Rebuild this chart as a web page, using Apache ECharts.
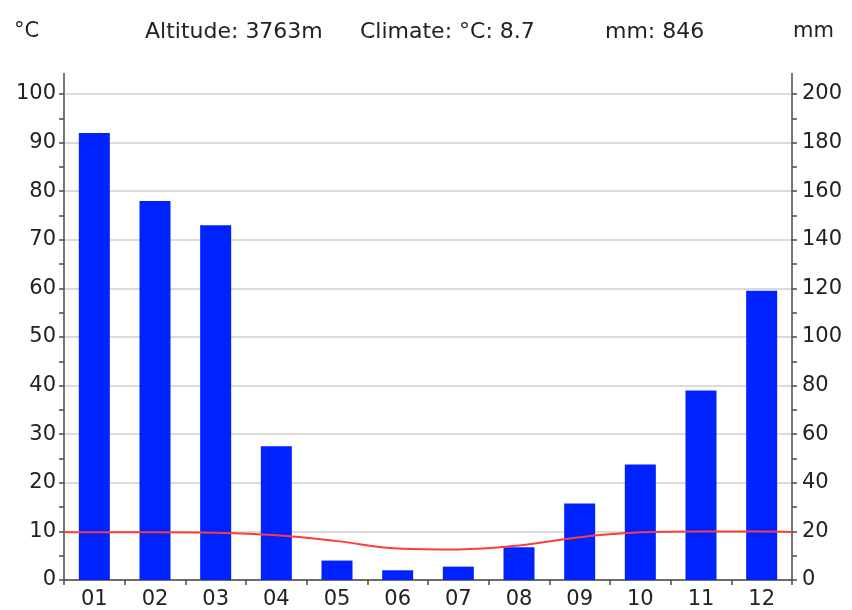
<!DOCTYPE html>
<html>
<head>
<meta charset="utf-8">
<script src="https://cdn.jsdelivr.net/npm/echarts@6/dist/echarts.min.js"></script>
<style>
  html, body { margin: 0; padding: 0; background: #fff; }
  #chart { width: 852px; height: 610px; }
</style>
</head>
<body>
<div id="chart"></div>
<script>
// climate chart data
var months = ["01", "02", "03", "04", "05", "06", "07", "08", "09", "10", "11", "12"];
var precipitation = [184, 156, 146, 55, 8, 4, 5.5, 13.5, 31.5, 47.5, 78, 119]; // mm
var temperature = [9.8, 9.8, 9.7, 9.2, 8.0, 6.5, 6.3, 7.1, 8.8, 9.8, 10, 10]; // °C
var altitude = 3763;
var meanTemp = 8.7;
var totalPrecip = 846;

var textColor = "#222";
var axisColor = "#4a4a4a";
var font = "DejaVu Sans";

// temperature line goes edge to edge, wrapping Dec -> Jan at the borders
var edgeTemp = (temperature[0] + temperature[11]) / 2;
var tempPoints = [[0, edgeTemp]];
temperature.forEach(function (t, i) {
  tempPoints.push([i + 0.5, t]);
});
tempPoints.push([12, edgeTemp]);

var chart = echarts.init(document.getElementById("chart"));

var option = {
  animation: false,
  backgroundColor: "#fff",
  textStyle: { fontFamily: font },
  grid: {
    left: 64,
    right: 60,
    top: 94,
    bottom: 30,
  },
  xAxis: [
    {
      type: "category",
      data: months,
      boundaryGap: true,
      axisLine: { lineStyle: { color: axisColor, width: 1.5 } },
      axisTick: { show: true, length: 5, lineStyle: { color: axisColor, width: 1.5 } },
      axisLabel: { color: textColor, fontSize: 21, fontFamily: font, margin: 9 },
      splitLine: { show: false },
    },
    {
      // hidden helper axis so the temperature curve can reach both borders
      type: "value",
      min: 0,
      max: 12,
      show: false,
    },
  ],
  yAxis: [
    {
      type: "value",
      min: 0,
      max: 100,
      interval: 10,
      position: "left",
      axisLine: { show: true, lineStyle: { color: axisColor, width: 1.5 } },
      axisTick: { show: true, length: 5, lineStyle: { color: axisColor, width: 1.5 } },
      minorTick: { show: true, splitNumber: 2, length: 5, lineStyle: { color: axisColor, width: 1.5 } },
      axisLabel: { color: textColor, fontSize: 21, fontFamily: font, margin: 8 },
      splitLine: { show: true, lineStyle: { color: "#cfcfcf", width: 1.5 } },
    },
    {
      type: "value",
      min: 0,
      max: 200,
      interval: 20,
      position: "right",
      axisLine: { show: true, lineStyle: { color: axisColor, width: 1.5 } },
      axisTick: { show: true, length: 5, lineStyle: { color: axisColor, width: 1.5 } },
      minorTick: { show: true, splitNumber: 2, length: 5, lineStyle: { color: axisColor, width: 1.5 } },
      axisLabel: { color: textColor, fontSize: 21, fontFamily: font, margin: 10 },
      splitLine: { show: false },
    },
  ],
  series: [
    {
      name: "mm",
      type: "bar",
      xAxisIndex: 0,
      yAxisIndex: 1,
      barWidth: 31,
      itemStyle: { color: "#0022ff" },
      data: precipitation,
      z: 2,
    },
    {
      name: "°C",
      type: "line",
      xAxisIndex: 1,
      yAxisIndex: 0,
      smooth: 0.4,
      showSymbol: false,
      lineStyle: { color: "#ff3b3b", width: 2 },
      data: tempPoints,
      z: 3,
    },
  ],
  graphic: [
    { type: "text", left: 14, top: 21, style: { text: "°C", fill: textColor, font: "21px " + font } },
    { type: "text", left: 145, top: 21, style: { text: "Altitude: " + altitude + "m", fill: textColor, font: "22px " + font } },
    { type: "text", left: 360, top: 21, style: { text: "Climate: °C: " + meanTemp, fill: textColor, font: "22px " + font } },
    { type: "text", left: 605, top: 21, style: { text: "mm: " + totalPrecip, fill: textColor, font: "22px " + font } },
    { type: "text", left: 793, top: 21, style: { text: "mm", fill: textColor, font: "21px " + font } },
    // axis lines run a bit above the plot area
    { type: "line", shape: { x1: 64, y1: 73, x2: 64, y2: 94 }, style: { stroke: axisColor, lineWidth: 1.5 } },
    { type: "line", shape: { x1: 792, y1: 73, x2: 792, y2: 94 }, style: { stroke: axisColor, lineWidth: 1.5 } },
  ],
};

chart.setOption(option);
</script>
</body>
</html>
